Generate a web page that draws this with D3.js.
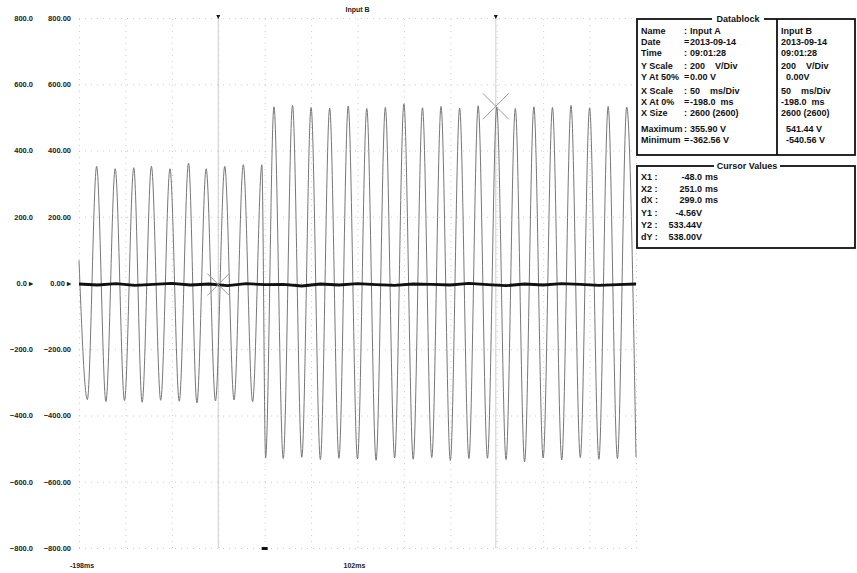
<!DOCTYPE html>
<meta charset="utf-8">
<style>
body { margin: 0; background: #fff; }
svg { display: block; font-family: "Liberation Sans", Arial, sans-serif; }
.grid line { stroke: #ccc; stroke-dasharray: 1,5; }
.grid path { display: none; }
.ylab path, .ylab line { display: none; }
.ylab text { font-size: 7.5px; font-weight: bold; fill: #222; }
.wave { fill: none; stroke: #777; stroke-width: 1; }
.trace { fill: none; stroke: #111; stroke-width: 2.8; }
.cursor { stroke: #ccc; stroke-width: 1; }
.cross { stroke: #999; stroke-width: 1; }
.box { fill: #fff; stroke: #111; stroke-width: 1.8; }
.info { font-size: 9px; font-weight: bold; fill: #111; }
.small { font-size: 7px; font-weight: bold; fill: #222; }
</style>
<svg width="857" height="573"></svg>
<script src="https://d3js.org/d3.v7.min.js"></script>
<script>

// time ticks (ms) and volt ticks
var xTicks = [-198, -148, -98, -48, 2, 52, 102, 152, 202, 252, 302, 352, 402];
var yTicks = [800, 600, 400, 200, 0, -200, -400, -600, -800];

// grey input trace: turning points (ms, V)
var waveTime = [-198, -189, -179, -169, -159, -149, -139, -130, -120, -110, -100, -90, -80, -71, -61, -51, -41, -31, -21, -11, -1,
  3, 12, 22, 32, 42, 52, 62, 72, 82, 92, 102, 112, 122, 132, 142, 152, 162, 172, 182, 192, 202, 212, 222, 232, 242,
  252, 262, 272, 282, 292, 302, 312, 322, 332, 342, 352, 362, 372, 382, 392, 402];
var waveVolt = [68, -352, 352, -358, 345, -355, 348, -360, 352, -354, 345, -357, 362, -362, 345, -356, 352, -353, 357, -358, 357,
  -528, 532, -530, 536, -526, 530, -533, 528, -529, 534, -531, 527, -535, 530, -528, 541, -532, 529, -527, 533, -536,
  528, -530, 535, -529, 531, -533, 527, -540, 532, -528, 530, -534, 536, -527, 529, -532, 533, -530, 531, -525];

// black trace sitting near zero
var flatTime = [-198, -178, -158, -138, -118, -98, -78, -58, -38, -18, 2, 22, 42, 62, 82, 102, 122, 142, 162, 182,
  202, 222, 242, 262, 282, 302, 322, 342, 362, 382, 402];
var flatVolt = [-3, -6, -2, -7, -4, -1, -6, -3, -8, -2, -5, -4, -9, -3, -6, -2, -5, -7, -3, -4, -6, -1, -5, -8, -3, -6, -2, -4, -7, -5, -3];

// cursors
var cursorTime = [-48, 251];
var cursorVolt = [-4.56, 533.44];

var infoLabels = ["Name", "Date", "Time", "Y Scale", "Y At 50%", "X Scale", "X At 0%", "X Size", "Maximum", "Minimum"];
var infoSep = [":", "=", ":", ":", "=", ":", "=", ":", ":", "="];
var infoA = ["Input A", "2013-09-14", "09:01:28", "200    V/Div", "0.00 V", "50    ms/Div", "-198.0  ms", "2600 (2600)", "355.90 V", "-362.56 V"];
var infoB = ["Input B", "2013-09-14", "09:01:28", "200    V/Div", "  0.00V", "50    ms/Div", "-198.0  ms", "2600 (2600)", "  541.44 V", "  -540.56 V"];
var cursorLabels = ["X1", "X2", "dX", "Y1", "Y2", "dY"];
var cursorValues = ["-48.0  ms", "251.0  ms", "299.0  ms", "-4.56V", "533.44V", "538.00V"];

var svg = d3.select("svg");

var x = d3.scaleLinear().domain([-198, 402]).range([79, 636]);
var y = d3.scaleLinear().domain([-800, 800]).range([548, 18]);

// dotted grid
svg.append("g").attr("class", "grid")
    .attr("transform", "translate(0,548)")
    .call(d3.axisBottom(x).tickValues(xTicks).tickSize(-530).tickFormat(""));
svg.append("g").attr("class", "grid")
    .attr("transform", "translate(79,0)")
    .call(d3.axisLeft(y).tickValues(yTicks).tickSize(-557).tickFormat(""));

// two columns of volt labels
svg.append("g").attr("class", "ylab")
    .attr("transform", "translate(33,0)")
    .call(d3.axisLeft(y).tickValues(yTicks).tickSize(0).tickPadding(0)
      .tickFormat(function(d) { return d === 0 ? "0.0 \u25B8" : d3.format(".1f")(d); }));
svg.append("g").attr("class", "ylab")
    .attr("transform", "translate(71,0)")
    .call(d3.axisLeft(y).tickValues(yTicks).tickSize(0).tickPadding(0)
      .tickFormat(function(d) { return d === 0 ? "0.00 \u25B8" : d3.format(".2f")(d); }));

// cursor lines
svg.selectAll(".cursor").data(cursorTime).enter().append("line")
    .attr("class", "cursor")
    .attr("x1", function(d) { return x(d); }).attr("x2", function(d) { return x(d); })
    .attr("y1", y(800)).attr("y2", y(-800));
svg.selectAll(".cmark").data(cursorTime).enter().append("path")
    .attr("d", function(d) { return "M" + (x(d) - 2) + "," + (y(800) - 3) + "h4l-2,4z"; })
    .attr("fill", "#111");

// grey input trace
var line = d3.line()
    .x(function(d, i) { return x(waveTime[i]); })
    .y(function(d) { return y(d); })
    .curve(d3.curveMonotoneX);
svg.append("path").attr("class", "wave").attr("d", line(waveVolt));

// black trace
var flat = d3.line()
    .x(function(d, i) { return x(flatTime[i]); })
    .y(function(d) { return y(d); });
svg.append("path").attr("class", "trace").attr("d", flat(flatVolt));

// cursor crosses
cursorTime.forEach(function(t, i) {
  var cx = x(t), cy = y(cursorVolt[i]), r = i ? 13 : 11;
  svg.append("path").attr("class", "cross")
      .attr("d", "M" + (cx - r) + "," + (cy - r) + "L" + (cx + r) + "," + (cy + r)
        + "M" + (cx - r) + "," + (cy + r) + "L" + (cx + r) + "," + (cy - r));
});

// trigger marker
svg.append("rect").attr("x", x(2) - 3).attr("y", 547).attr("width", 6).attr("height", 3).attr("fill", "#111");

// titles on top and bottom
svg.append("text").attr("class", "small").attr("x", x(102)).attr("y", 12).attr("text-anchor", "middle").text("Input B");
svg.append("text").attr("class", "small").attr("x", 70).attr("y", 568).text("-198ms");
svg.append("text").attr("class", "small").attr("x", x(102) - 14).attr("y", 568).text("102ms");

// data block
var info = svg.append("g");
info.append("rect").attr("class", "box").attr("x", 637).attr("y", 19).attr("width", 218).attr("height", 136);
info.append("line").attr("stroke", "#111").attr("stroke-width", 1.8)
    .attr("x1", 777).attr("x2", 777).attr("y1", 19).attr("y2", 155);
info.append("rect").attr("x", 712).attr("y", 13).attr("width", 52).attr("height", 10).attr("fill", "#fff");
info.append("text").attr("class", "info").attr("x", 738).attr("y", 22).attr("text-anchor", "middle").text("Datablock");

var rowY = [31, 42, 53, 66, 77, 91, 102, 113, 129, 140];
info.selectAll(".lab").data(infoLabels).enter().append("text")
    .attr("class", "info").attr("x", 641).attr("y", function(d, i) { return rowY[i] + 3; })
    .text(function(d) { return d; });
info.selectAll(".sep").data(infoSep).enter().append("text")
    .attr("class", "info").attr("x", 684).attr("y", function(d, i) { return rowY[i] + 3; })
    .text(function(d) { return d; });
info.selectAll(".va").data(infoA).enter().append("text")
    .attr("class", "info").attr("x", 690).attr("y", function(d, i) { return rowY[i] + 3; })
    .attr("xml:space", "preserve")
    .text(function(d) { return d; });
info.selectAll(".vb").data(infoB).enter().append("text")
    .attr("class", "info").attr("x", 781).attr("y", function(d, i) { return rowY[i] + 3; })
    .attr("xml:space", "preserve")
    .text(function(d) { return d; });

// cursor values block
var cur = svg.append("g");
cur.append("rect").attr("class", "box").attr("x", 637).attr("y", 166).attr("width", 218).attr("height", 82);
cur.append("rect").attr("x", 714).attr("y", 160).attr("width", 66).attr("height", 10).attr("fill", "#fff");
cur.append("text").attr("class", "info").attr("x", 747).attr("y", 169).attr("text-anchor", "middle").text("Cursor Values");
var curY = [177, 189, 200, 213, 225, 237];
cur.selectAll(".cl").data(cursorLabels).enter().append("text")
    .attr("class", "info").attr("x", 641).attr("y", function(d, i) { return curY[i] + 3; })
    .text(function(d) { return d + " :"; });
cur.selectAll(".cv").data(cursorValues).enter().append("text")
    .attr("class", "info").attr("x", 702).attr("y", function(d, i) { return curY[i] + 3; })
    .attr("text-anchor", "end").attr("xml:space", "preserve")
    .text(function(d) { return d.split("  ")[0]; });
cur.selectAll(".cu").data(cursorValues).enter().append("text")
    .attr("class", "info").attr("x", 705).attr("y", function(d, i) { return curY[i] + 3; })
    .text(function(d) { return d.indexOf("  ") > 0 ? d.split("  ")[1] : ""; });

</script>
